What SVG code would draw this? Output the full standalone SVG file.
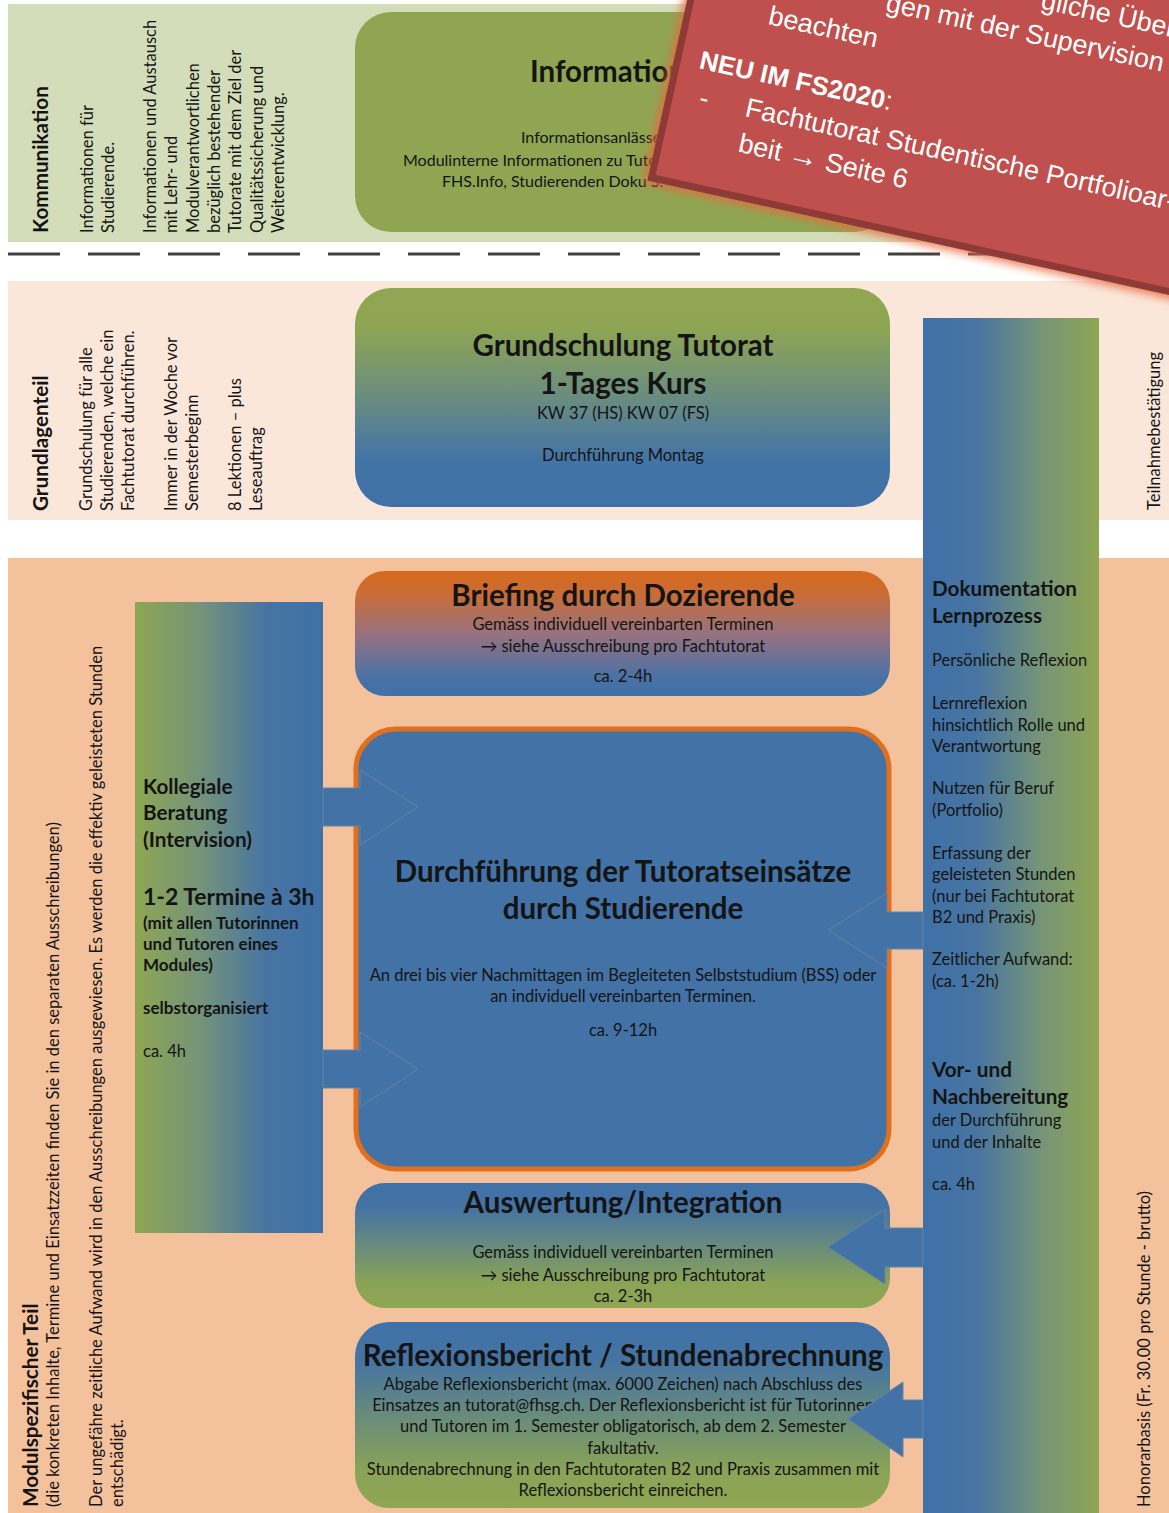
<svg xmlns="http://www.w3.org/2000/svg" width="1169" height="1513" viewBox="0 0 1169 1513">
<style>
.t{font-family:Lato,"Noto Sans",sans-serif;fill:#141414}
.b{font-weight:700}
.f15{font-size:16.5px}
.f16{font-size:16px}
.h{font-size:29.5px;font-weight:700;text-anchor:middle}
.c{text-anchor:middle}
.side{font-size:20.7px;font-weight:700}
.sub{font-size:20.7px;font-weight:700}
.ban{font-family:"Liberation Sans",Arial,sans-serif;fill:#ffffff;font-size:27px}
.arrow{fill:#4272a6;stroke:#6784a6;stroke-width:1}
</style>
<defs>
<linearGradient id="gGB" x1="0" y1="0" x2="0" y2="1">
<stop offset="0" stop-color="#90a652"/><stop offset="0.18" stop-color="#8ea553"/><stop offset="0.5" stop-color="#6a8c80"/><stop offset="0.78" stop-color="#4374a6"/><stop offset="1" stop-color="#3f71a7"/>
</linearGradient>
<linearGradient id="gOB" x1="0" y1="0" x2="0" y2="1">
<stop offset="0" stop-color="#d76a1c"/><stop offset="0.18" stop-color="#c96c35"/><stop offset="0.5" stop-color="#98727f"/><stop offset="0.85" stop-color="#4a71a5"/><stop offset="1" stop-color="#3f71a7"/>
</linearGradient>
<linearGradient id="gBG" x1="0" y1="0" x2="0" y2="1">
<stop offset="0" stop-color="#3f71a7"/><stop offset="0.2" stop-color="#4573a3"/><stop offset="0.8" stop-color="#8aa356"/><stop offset="1" stop-color="#8fa652"/>
</linearGradient>
<linearGradient id="gRight" x1="0" y1="0" x2="1" y2="0">
<stop offset="0" stop-color="#3f71a7"/><stop offset="0.3" stop-color="#4774a2"/><stop offset="0.65" stop-color="#74937a"/><stop offset="1" stop-color="#8fa652"/>
</linearGradient>
<linearGradient id="gLeft" x1="0" y1="0" x2="1" y2="0">
<stop offset="0" stop-color="#8fa652"/><stop offset="0.35" stop-color="#74937a"/><stop offset="0.7" stop-color="#4774a2"/><stop offset="1" stop-color="#3f71a7"/>
</linearGradient>
<filter id="glow" x="-20%" y="-20%" width="140%" height="140%">
<feGaussianBlur stdDeviation="5"/>
</filter>
</defs>

<rect width="1169" height="1513" fill="#ffffff"/>

<g id="bands">
<rect x="8" y="4" width="1161" height="238" fill="#d4ddb9"/>
<rect x="8" y="281" width="1161" height="239" fill="#fbe6da"/>
<rect x="8" y="558" width="1161" height="955" fill="#f4c19d"/>
<line x1="8" y1="254" x2="1169" y2="254" stroke="#404040" stroke-width="3" stroke-dasharray="52 28"/>
</g>

<g id="band-texts">
<text class="t side" transform="translate(48,233) rotate(-90)">Kommunikation</text>
<text class="t f15" transform="translate(93,233) rotate(-90)"><tspan x="0" y="0">Informationen für</tspan><tspan x="0" dy="21">Studierende.</tspan></text>
<text class="t f15" transform="translate(156,233) rotate(-90)"><tspan x="0" y="0">Informationen und Austausch</tspan><tspan x="0" dy="21.3">mit Lehr- und</tspan><tspan x="0" dy="21.3">Modulverantwortlichen</tspan><tspan x="0" dy="21.3">bezüglich bestehender</tspan><tspan x="0" dy="21.3">Tutorate mit dem Ziel der</tspan><tspan x="0" dy="21.3">Qualitätssicherung und</tspan><tspan x="0" dy="21.3">Weiterentwicklung.</tspan></text>

<text class="t side" transform="translate(48,511) rotate(-90)">Grundlagenteil</text>
<text class="t f15" transform="translate(92,511) rotate(-90)"><tspan x="0" y="0">Grundschulung für alle</tspan><tspan x="0" dy="21">Studierenden, welche ein</tspan><tspan x="0" dy="21">Fachtutorat durchführen.</tspan></text>
<text class="t f15" transform="translate(177,511) rotate(-90)"><tspan x="0" y="0">Immer in der Woche vor</tspan><tspan x="0" dy="21">Semesterbeginn</tspan></text>
<text class="t f15" transform="translate(241,511) rotate(-90)"><tspan x="0" y="0">8 Lektionen – plus</tspan><tspan x="0" dy="21">Leseauftrag</tspan></text>

<text class="t side" transform="translate(38,1507) rotate(-90)">Modulspezifischer Teil</text>
<text class="t f15" transform="translate(59,1507) rotate(-90)">(die konkreten Inhalte, Termine und Einsatzzeiten finden Sie in den separaten Ausschreibungen)</text>
<text class="t f15" transform="translate(102,1507) rotate(-90)"><tspan x="0" y="0">Der ungefähre zeitliche Aufwand wird in den Ausschreibungen ausgewiesen. Es werden die effektiv geleisteten Stunden</tspan><tspan x="0" dy="21">entschädigt.</tspan></text>

<text class="t f15" transform="translate(1160,510) rotate(-90)">Teilnahmebestätigung</text>
<text class="t f15" transform="translate(1150,1507) rotate(-90)">Honorarbasis (Fr. 30.00 pro Stunde - brutto)</text>
</g>

<g id="node-information">
<rect x="355" y="12" width="535" height="220" rx="36" fill="#8fa552"/>
<text class="t b" x="530" y="82" font-size="29.5">Informationen</text>
<text class="t f16" x="521" y="143">Informationsanlässe</text>
<text class="t f16" x="403" y="166">Modulinterne Informationen zu Tutoraten</text>
<text class="t f16" x="442" y="187">FHS.Info, Studierenden Doku S.</text>
</g>

<g id="node-grundschulung">
<rect x="355" y="288" width="535" height="219" rx="36" fill="url(#gGB)"/>
<text class="t h" x="623" y="356">Grundschulung Tutorat</text>
<text class="t h" x="623" y="394">1-Tages Kurs</text>
<text class="t f15 c" x="623" y="419">KW 37 (HS) KW 07 (FS)</text>
<text class="t f15 c" x="623" y="461">Durchführung Montag</text>
</g>

<g id="node-dokumentation">
<rect x="923" y="318" width="176" height="1195" fill="url(#gRight)"/>
<text class="t sub" x="932" y="596">Dokumentation</text>
<text class="t sub" x="932" y="623">Lernprozess</text>
<text class="t f15" x="932" y="666">Persönliche Reflexion</text>
<text class="t f15"><tspan x="932" y="709">Lernreflexion</tspan><tspan x="932" dy="21.5">hinsichtlich Rolle und</tspan><tspan x="932" dy="21.5">Verantwortung</tspan></text>
<text class="t f15"><tspan x="932" y="794">Nutzen für Beruf</tspan><tspan x="932" dy="21.5">(Portfolio)</tspan></text>
<text class="t f15"><tspan x="932" y="859">Erfassung der</tspan><tspan x="932" dy="21.3">geleisteten Stunden</tspan><tspan x="932" dy="21.3">(nur bei Fachtutorat</tspan><tspan x="932" dy="21.3">B2 und Praxis)</tspan></text>
<text class="t f15"><tspan x="932" y="965">Zeitlicher Aufwand:</tspan><tspan x="932" dy="21.5">(ca. 1-2h)</tspan></text>
<text class="t sub" x="932" y="1077">Vor- und</text>
<text class="t sub" x="932" y="1104">Nachbereitung</text>
<text class="t f15"><tspan x="932" y="1126">der Durchführung</tspan><tspan x="932" dy="21.5">und der Inhalte</tspan></text>
<text class="t f15" x="932" y="1190">ca. 4h</text>
</g>

<g id="node-kollegiale">
<rect x="135" y="602" width="188" height="631" fill="url(#gLeft)"/>
<text class="t sub" x="143" y="794">Kollegiale</text>
<text class="t sub" x="143" y="820">Beratung</text>
<text class="t sub" x="143" y="847">(Intervision)</text>
<text class="t b" x="143" y="905" font-size="23">1-2 Termine à 3h</text>
<text class="t b" font-size="17"><tspan x="143" y="929">(mit allen Tutorinnen</tspan><tspan x="143" dy="21">und Tutoren eines</tspan><tspan x="143" dy="21">Modules)</tspan></text>
<text class="t b" font-size="17" x="143" y="1014">selbstorganisiert</text>
<text class="t f15" x="143" y="1057">ca. 4h</text>
</g>

<g id="node-briefing">
<rect x="355" y="571" width="535" height="125" rx="30" fill="url(#gOB)"/>
<text class="t h" x="623" y="606">Briefing durch Dozierende</text>
<text class="t f15 c" x="623" y="630">Gemäss individuell vereinbarten Terminen</text>
<text class="t f15 c" x="623" y="652">→ siehe Ausschreibung pro Fachtutorat</text>
<text class="t f15 c" x="623" y="682">ca. 2-4h</text>
</g>

<g id="node-durchfuehrung">
<rect x="356" y="729" width="533" height="440" rx="40" fill="#4272a6" stroke="#e0701e" stroke-width="5"/>
<text class="t h" x="623" y="882" font-size="30">Durchführung der Tutoratseinsätze</text>
<text class="t h" x="623" y="919" font-size="30">durch Studierende</text>
<text class="t f15 c" x="623" y="981">An drei bis vier Nachmittagen im Begleiteten Selbststudium (BSS) oder</text>
<text class="t f15 c" x="623" y="1002">an individuell vereinbarten Terminen.</text>
<text class="t f15 c" x="623" y="1036">ca. 9-12h</text>
</g>

<g id="node-auswertung">
<rect x="355" y="1183" width="535" height="125" rx="30" fill="url(#gBG)"/>
<text class="t h" x="623" y="1213">Auswertung/Integration</text>
<text class="t f15 c" x="623" y="1258">Gemäss individuell vereinbarten Terminen</text>
<text class="t f15 c" x="623" y="1281">→ siehe Ausschreibung pro Fachtutorat</text>
<text class="t f15 c" x="623" y="1302">ca. 2-3h</text>
</g>

<g id="node-reflexion">
<rect x="355" y="1322" width="535" height="186" rx="34" fill="url(#gBG)"/>
<text class="t h" x="623" y="1366" font-size="30">Reflexionsbericht / Stundenabrechnung</text>
<text class="t f15 c"><tspan x="623" y="1390">Abgabe Reflexionsbericht (max. 6000 Zeichen) nach Abschluss des</tspan><tspan x="623" dy="21.2">Einsatzes an tutorat@fhsg.ch. Der Reflexionsbericht ist für Tutorinnen</tspan><tspan x="623" dy="21.2">und Tutoren im 1. Semester obligatorisch, ab dem 2. Semester</tspan><tspan x="623" dy="21.2">fakultativ.</tspan><tspan x="623" dy="21.2">Stundenabrechnung in den Fachtutoraten B2 und Praxis zusammen mit</tspan><tspan x="623" dy="21.2">Reflexionsbericht einreichen.</tspan></text>
</g>

<g id="connectors">
<polygon class="arrow" points="323,788 360,788 360,770 418,807 360,845 360,826 323,826"/>
<polygon class="arrow" points="323,1050 360,1050 360,1032 418,1069 360,1107 360,1088 323,1088"/>
<polygon class="arrow" points="923,912 887,912 887,893 828,930 887,968 887,949 923,949"/>
<polygon class="arrow" points="923,1228 885,1228 885,1209 828,1247 885,1284 885,1267 923,1267"/>
<polygon class="arrow" points="923,1400 903,1400 903,1382 848,1419 903,1457 903,1438 923,1438"/>
</g>

<g id="node-banner" transform="translate(648,180) rotate(12.4)">
<rect x="-4" y="-430" width="820" height="434" fill="#e8693c" filter="url(#glow)" opacity="0.85"/>
<rect x="3" y="-423" width="810" height="420" fill="#c0504d" stroke="#8e3a37" stroke-width="7"/>
<text class="ban" x="346" y="-252">gliche Überschneidun-</text>
<text class="ban" x="195" y="-216">gen mit der Supervision</text>
<text class="ban" x="83" y="-178">beachten</text>
<text class="ban" x="25" y="-120"><tspan font-weight="700" font-size="26">NEU IM FS2020</tspan>:</text>
<text class="ban" x="33" y="-83">-</text>
<text class="ban" x="80" y="-83">Fachtutorat Studentische Portfolioar-</text>
<text class="ban" x="81" y="-47">beit <tspan font-size="30">→</tspan> Seite 6</text>
</g>
</svg>
